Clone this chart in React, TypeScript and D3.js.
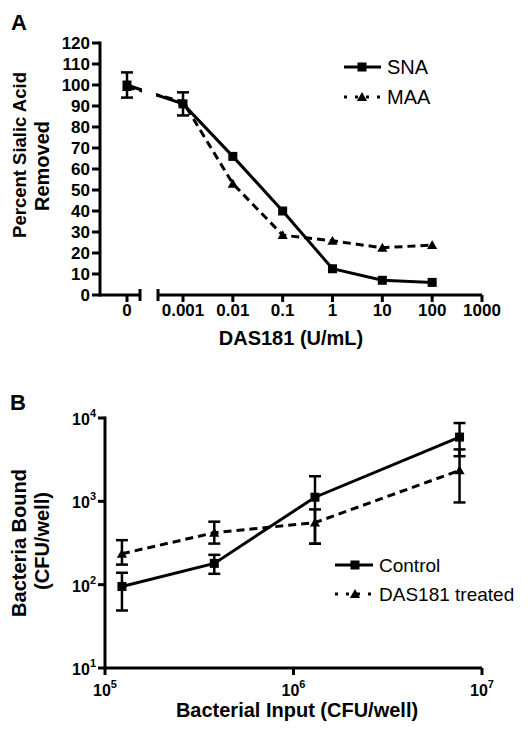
import React from "react";
import * as d3 from "d3";

// Panel A data
const doseLabels = ["0", "0.001", "0.01", "0.1", "1", "10", "100", "1000"];
const doseTicks = [0.001, 0.01, 0.1, 1, 10, 100, 1000];
const doses = [0, 0.001, 0.01, 0.1, 1, 10, 100];
const snaValues = [100, 91, 66, 40, 12.5, 7, 6];
const snaErr = [6, 5.5, 0, 0, 0, 0, 0];
const maaValues = [99, 92, 53, 28.5, 25.8, 22.5, 23.8];
const yTicksA = [0, 10, 20, 30, 40, 50, 60, 70, 80, 90, 100, 110, 120];

// Panel B data
const inputs = [1.23e5, 3.8e5, 1.3e6, 7.6e6];
const controlValues = [95, 180, 1120, 5900];
const controlLo = [49, 135, 310, 3480];
const controlHi = [139, 228, 2000, 8700];
const dasValues = [235, 420, 555, 2350];
const dasLo = [174, 311, 310, 970];
const dasHi = [342, 570, 800, 4200];
const yTicksB = [1, 2, 3, 4];
const xTicksB = [5, 6, 7];

const FONT = "'Liberation Sans', Arial, Helvetica, sans-serif";

const Square = ({ x, y, s = 9 }: { x: number; y: number; s?: number }) => (
  <rect x={x - s / 2} y={y - s / 2} width={s} height={s} fill="#000" />
);
const Tri = ({ x, y, s = 10 }: { x: number; y: number; s?: number }) => {
  const p = d3.symbol(d3.symbolTriangle, s * s * 0.45)();
  return <path d={p as string} transform={`translate(${x},${y + 1})`} fill="#000" />;
};

const ErrBar = ({ x, y1, y2, w = 6 }: { x: number; y1: number; y2: number; w?: number }) => (
  <g stroke="#000" strokeWidth={2.5}>
    <line x1={x} x2={x} y1={y1} y2={y2} />
    <line x1={x - w} x2={x + w} y1={y1} y2={y1} />
    <line x1={x - w} x2={x + w} y1={y2} y2={y2} />
  </g>
);

export default function App() {
  const yA = d3.scaleLinear().domain([0, 120]).range([295, 43]);
  const xLog = d3.scaleLog().domain([0.001, 1000]).range([183, 482]);
  const xZero = 127;
  const xA = (d: number) => (d === 0 ? xZero : xLog(d));
  const lineA = d3
    .line<number>()
    .x((_, i) => xA(doses[i]))
    .y((v) => yA(v));

  const yB = d3.scaleLog().domain([10, 1e4]).range([668, 418]);
  const xB = d3.scaleLog().domain([1e5, 1e7]).range([105, 482]);
  const lineB = d3
    .line<number>()
    .x((_, i) => xB(inputs[i]))
    .y((v) => yB(v));

  return (
    <svg
      width={532}
      height={736}
      style={{ position: "absolute", left: 0, top: 0, background: "#fff" }}
      fontFamily={FONT}
    >
      <rect width={532} height={736} fill="#fff" />
      <defs>
        <clipPath id="brk">
          <rect x={0} y={0} width={142} height={400} />
          <rect x={156} y={0} width={400} height={400} />
        </clipPath>
      </defs>

      {/* ---------- Panel A ---------- */}
      <text x={11} y={30} fontSize={22} fontWeight="bold">A</text>

      <line x1={100} x2={100} y1={yA(120) - 1.5} y2={yA(0) + 1.5} stroke="#000" strokeWidth={3} />
      {yTicksA.map((t) => (
        <g key={t}>
          <line x1={92} x2={100} y1={yA(t)} y2={yA(t)} stroke="#000" strokeWidth={3} />
          <text x={90} y={yA(t)} dy="0.36em" textAnchor="end" fontSize={17} fontWeight="bold">
            {t}
          </text>
        </g>
      ))}

      <line x1={100} x2={140} y1={295} y2={295} stroke="#000" strokeWidth={3} />
      <line x1={140} x2={140} y1={289} y2={301} stroke="#000" strokeWidth={3} />
      <line x1={158} x2={482} y1={295} y2={295} stroke="#000" strokeWidth={3} />
      <line x1={158} x2={158} y1={289} y2={301} stroke="#000" strokeWidth={3} />
      <line x1={xZero} x2={xZero} y1={295} y2={302} stroke="#000" strokeWidth={3} />
      <text x={xZero} y={316} textAnchor="middle" fontSize={17} fontWeight="bold">
        {doseLabels[0]}
      </text>
      {doseTicks.map((t, i) => (
        <g key={t}>
          <line x1={xLog(t)} x2={xLog(t)} y1={295} y2={302} stroke="#000" strokeWidth={3} />
          <text x={xLog(t)} y={316} textAnchor="middle" fontSize={17} fontWeight="bold">
            {doseLabels[i + 1]}
          </text>
        </g>
      ))}
      <text x={291} y={345} textAnchor="middle" fontSize={20} fontWeight="bold">
        DAS181 (U/mL)
      </text>
      <text transform="translate(26,155) rotate(-90)" textAnchor="middle" fontSize={18.5} fontWeight="bold">
        Percent Sialic Acid
      </text>
      <text transform="translate(49,166) rotate(-90)" textAnchor="middle" fontSize={20} fontWeight="bold">
        Removed
      </text>

      <g clipPath="url(#brk)">
        <path d={lineA(maaValues) as string} fill="none" stroke="#000" strokeWidth={3} strokeDasharray="8,5" />
        <path d={lineA(snaValues) as string} fill="none" stroke="#000" strokeWidth={3} />
      </g>
      {doses.map((d, i) =>
        snaErr[i] > 0 ? (
          <ErrBar key={"e" + i} x={xA(d)} y1={yA(snaValues[i] + snaErr[i])} y2={yA(snaValues[i] - snaErr[i])} />
        ) : null
      )}
      {doses.map((d, i) => (
        <Tri key={"t" + i} x={xA(d)} y={yA(maaValues[i])} />
      ))}
      {doses.map((d, i) => (
        <Square key={"s" + i} x={xA(d)} y={yA(snaValues[i])} />
      ))}

      <line x1={344} x2={381} y1={67} y2={67} stroke="#000" strokeWidth={3} />
      <Square x={362} y={67} />
      <text x={387} y={74} fontSize={20}>SNA</text>
      <line x1={344} x2={381} y1={97} y2={97} stroke="#000" strokeWidth={3} strokeDasharray="3,8" />
      <Tri x={362} y={97} />
      <text x={387} y={104} fontSize={20}>MAA</text>

      {/* ---------- Panel B ---------- */}
      <text x={10} y={410} fontSize={22} fontWeight="bold">B</text>

      <line x1={105} x2={105} y1={yB(1e4) - 1.5} y2={yB(10) + 1.5} stroke="#000" strokeWidth={3} />
      {yTicksB.map((e) => (
        <g key={e}>
          <line x1={98} x2={105} y1={yB(Math.pow(10, e))} y2={yB(Math.pow(10, e))} stroke="#000" strokeWidth={3} />
          <text x={96} y={yB(Math.pow(10, e)) + 7} textAnchor="end" fontSize={16} fontWeight="bold">
            10<tspan dy={-8} fontSize={11}>{e}</tspan>
          </text>
        </g>
      ))}
      <line x1={105} x2={482} y1={668} y2={668} stroke="#000" strokeWidth={3} />
      {xTicksB.map((e) => (
        <g key={e}>
          <line x1={xB(Math.pow(10, e))} x2={xB(Math.pow(10, e))} y1={668} y2={675} stroke="#000" strokeWidth={3} />
          <text x={xB(Math.pow(10, e))} y={696} textAnchor="middle" fontSize={16} fontWeight="bold">
            10<tspan dy={-8} fontSize={11}>{e}</tspan>
          </text>
        </g>
      ))}
      <text x={297} y={717} textAnchor="middle" fontSize={20} fontWeight="bold">
        Bacterial Input (CFU/well)
      </text>
      <text transform="translate(26,543) rotate(-90)" textAnchor="middle" fontSize={20} fontWeight="bold">
        Bacteria Bound
      </text>
      <text transform="translate(49,541) rotate(-90)" textAnchor="middle" fontSize={20} fontWeight="bold">
        (CFU/well)
      </text>

      <path d={lineB(dasValues) as string} fill="none" stroke="#000" strokeWidth={3} strokeDasharray="8,5" />
      <path d={lineB(controlValues) as string} fill="none" stroke="#000" strokeWidth={3} />
      {inputs.map((x, i) => (
        <ErrBar key={"de" + i} x={xB(x)} y1={yB(dasHi[i])} y2={yB(dasLo[i])} />
      ))}
      {inputs.map((x, i) => (
        <ErrBar key={"ce" + i} x={xB(x)} y1={yB(controlHi[i])} y2={yB(controlLo[i])} />
      ))}
      {inputs.map((x, i) => (
        <Tri key={"dt" + i} x={xB(x)} y={yB(dasValues[i])} />
      ))}
      {inputs.map((x, i) => (
        <Square key={"cs" + i} x={xB(x)} y={yB(controlValues[i])} />
      ))}

      <line x1={335} x2={373} y1={565} y2={565} stroke="#000" strokeWidth={3} />
      <Square x={355} y={565} />
      <text x={379} y={572} fontSize={19}>Control</text>
      <line x1={335} x2={373} y1={594} y2={594} stroke="#000" strokeWidth={3} strokeDasharray="3,8" />
      <Tri x={355} y={594} />
      <text x={379} y={601} fontSize={19}>DAS181 treated</text>
    </svg>
  );
}
